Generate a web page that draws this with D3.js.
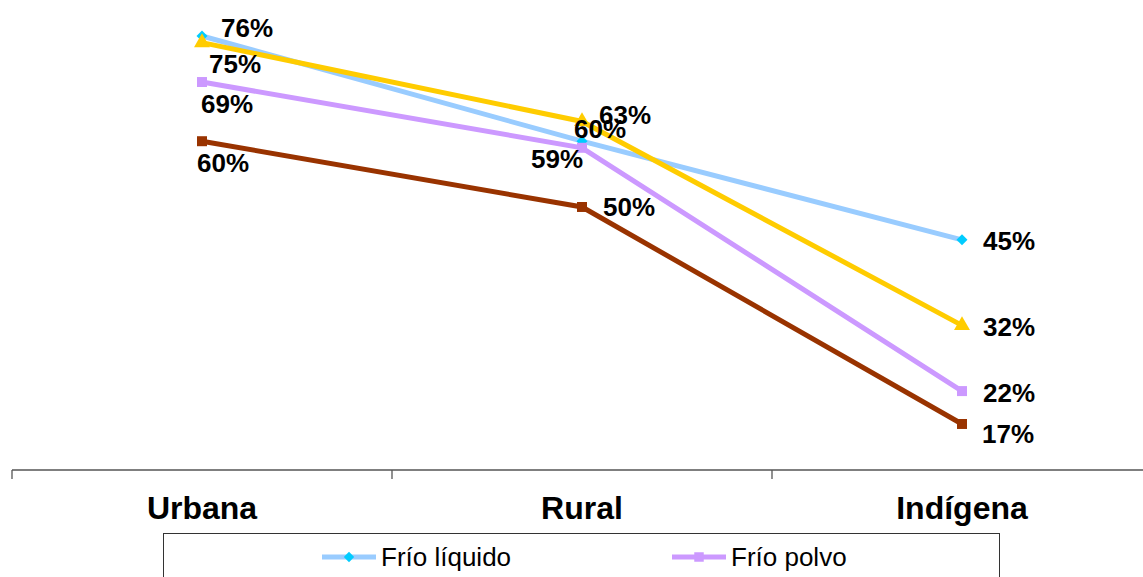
<!DOCTYPE html>
<html>
<head>
<meta charset="utf-8">
<script src="https://cdn.jsdelivr.net/npm/d3@7"></script>
<style>
  body { margin: 0; background: #fff; }
  svg { display: block; font-family: "Liberation Sans", Arial, sans-serif; }
</style>
</head>
<body>
<svg id="chart" width="1143" height="577"></svg>
<script>
// categories and series values (percent)
let categories = ['Urbana', 'Rural', 'Indígena'];
let liquido = [76, 60, 45];
let polvo = [69, 59, 22];
let amarillo = [75, 63, 32];
let cafe = [60, 50, 17];

// series names (second legend row falls below the visible area)
let seriesNames = ['Frío líquido', 'Frío polvo', 'Caliente líquido', 'Caliente polvo'];

// label nudges relative to each point, per series
let labelOffsets = [
    [[19, 1], [-8, -3], [21, 10]],
    [[-1, 31], [-51, 20], [21, 11]],
    [[7, 30], [17, 3], [21, 11]],
    [[-5, 31], [21, 9], [20, 19]]
];

let series = [
    { name: seriesNames[0], values: liquido, line: '#99ccff', marker: '#00ccff', shape: 'diamond' },
    { name: seriesNames[1], values: polvo, line: '#cc99ff', marker: '#cc99ff', shape: 'square' },
    { name: seriesNames[2], values: amarillo, line: '#ffcc00', marker: '#ffcc00', shape: 'triangle' },
    { name: seriesNames[3], values: cafe, line: '#993300', marker: '#993300', shape: 'square' }
];

// marker path; the diamond is a square turned 45 degrees
function marker(shape, scale) {
    if (shape === 'triangle') return d3.symbol().type(d3.symbolTriangle).size(110 * scale)();
    if (shape === 'diamond') return d3.symbol().type(d3.symbolSquare).size(60 * scale)();
    return d3.symbol().type(d3.symbolSquare).size(100 * scale)();
}

let svg = d3.select('#chart');

let x = d3.scaleBand()
    .domain(categories)
    .range([12, 1152]);

let y = d3.scaleLinear()
    .domain([10, 76])
    .range([470, 36]);

// category axis
let axis = svg.append('g')
    .attr('transform', 'translate(0,470)')
    .call(d3.axisBottom(x).tickSize(0).tickFormat(''));
axis.select('.domain').attr('stroke', '#555').attr('stroke-width', 1.3).attr('d', 'M12,0H1152');

axis.selectAll('.boundary')
    .data([0, 1, 2, 3])
    .join('line')
    .attr('class', 'boundary')
    .attr('x1', d => x.range()[0] + d * x.bandwidth())
    .attr('x2', d => x.range()[0] + d * x.bandwidth())
    .attr('y1', 0)
    .attr('y2', 9)
    .attr('stroke', '#555')
    .attr('stroke-width', 1.3);

svg.append('g')
    .selectAll('text')
    .data(categories)
    .join('text')
    .attr('x', d => x(d) + x.bandwidth() / 2)
    .attr('y', 519)
    .attr('text-anchor', 'middle')
    .attr('font-size', 32)
    .attr('font-weight', 'bold')
    .text(d => d);

let line = d3.line()
    .x((d, i) => x(categories[i]) + x.bandwidth() / 2)
    .y(d => y(d));

let groups = svg.append('g')
    .selectAll('g')
    .data(series)
    .join('g');

groups.append('path')
    .attr('d', d => line(d.values))
    .attr('fill', 'none')
    .attr('stroke', d => d.line)
    .attr('stroke-width', 5);

groups.selectAll('path.mark')
    .data(d => d.values.map((v, i) => ({ v: v, i: i, s: d })))
    .join('path')
    .attr('class', 'mark')
    .attr('transform', d => 'translate(' + (x(categories[d.i]) + x.bandwidth() / 2) + ',' + y(d.v) + ')'
        + (d.s.shape === 'diamond' ? ' rotate(45)' : ''))
    .attr('d', d => marker(d.s.shape, 1))
    .attr('fill', d => d.s.marker);

// data labels
series.forEach(function(s, k) {
    svg.append('g')
        .selectAll('text')
        .data(s.values)
        .join('text')
        .attr('x', (d, i) => x(categories[i]) + x.bandwidth() / 2 + labelOffsets[k][i][0])
        .attr('y', (d, i) => y(d) + labelOffsets[k][i][1])
        .attr('font-size', 26)
        .attr('font-weight', 'bold')
        .text(d => d + '%');
});

// legend
let legend = svg.append('g');
legend.append('rect')
    .attr('x', 163.5)
    .attr('y', 533.5)
    .attr('width', 836)
    .attr('height', 80)
    .attr('fill', '#fff')
    .attr('stroke', '#333')
    .attr('stroke-width', 1);

let items = legend.selectAll('g')
    .data(series)
    .join('g')
    .attr('transform', (d, i) => 'translate(' + (322 + (i % 2) * 350) + ',' + (557 + Math.floor(i / 2) * 36) + ')');

items.append('line')
    .attr('x1', 0)
    .attr('x2', 54)
    .attr('stroke', d => d.line)
    .attr('stroke-width', 5);

items.append('path')
    .attr('transform', d => 'translate(27,0)' + (d.shape === 'diamond' ? ' rotate(45)' : ''))
    .attr('d', d => marker(d.shape, 0.9))
    .attr('fill', d => d.marker);

items.append('text')
    .attr('x', 59)
    .attr('y', 9)
    .attr('font-size', 26)
    .text(d => d.name);
</script>
</body>
</html>
